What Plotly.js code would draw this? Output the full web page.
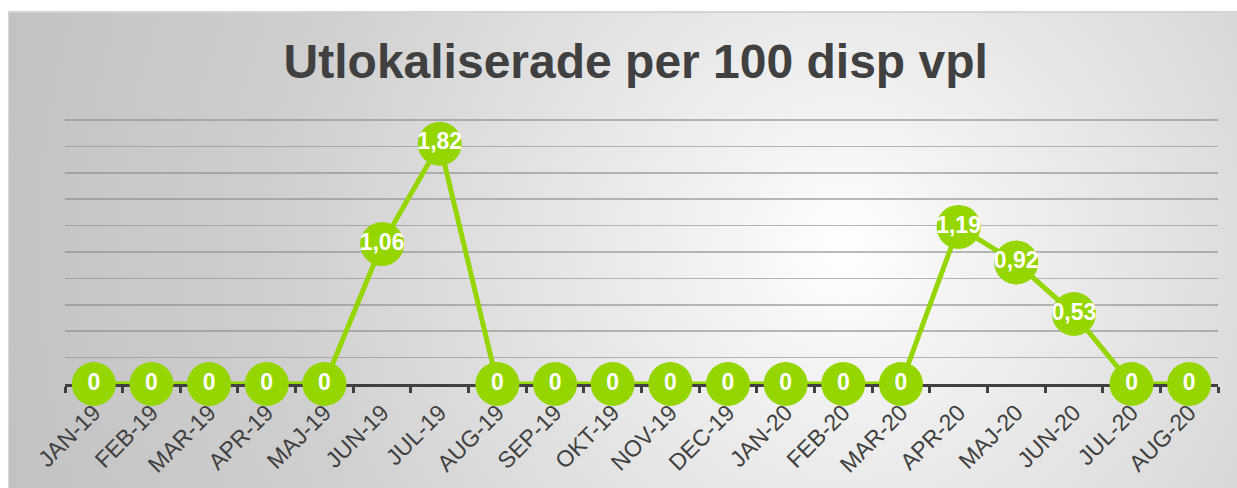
<!DOCTYPE html>
<html>
<head>
<meta charset="utf-8">
<script src="https://cdn.plot.ly/plotly-3.0.1.min.js"></script>
<style>
  html, body { margin: 0; padding: 0; background: #ffffff; }
  #bg {
    position: absolute; left: 8px; top: 11px; width: 1229px; height: 477px;
    box-sizing: border-box;
    border-top: 2px solid #d4d4d4; border-left: 1px solid #d8d8d8;
    background: radial-gradient(circle at 68% 50%, #ffffff 0%, #f3f3f3 14%, #e2e2e2 38%, #cfcfcf 65%, #c2c2c2 100%);
  }
  #chart { position: absolute; left: 0; top: 0; width: 1237px; height: 488px; }
</style>
</head>
<body>
<div id="bg"></div>
<div id="chart"></div>
<script>
const months = ["JAN-19","FEB-19","MAR-19","APR-19","MAJ-19","JUN-19","JUL-19","AUG-19","SEP-19","OKT-19","NOV-19","DEC-19","JAN-20","FEB-20","MAR-20","APR-20","MAJ-20","JUN-20","JUL-20","AUG-20"];
const values = [0,0,0,0,0,1.06,1.82,0,0,0,0,0,0,0,0,1.19,0.92,0.53,0,0];
const labels = values.map(v => String(v).replace('.', ','));

const green = '#95d600';
const dark = '#404040';

const trace = {
  type: 'scatter',
  mode: 'lines+markers+text',
  x: months,
  y: values,
  text: labels,
  textposition: 'middle center',
  textfont: { family: 'Liberation Sans, Arial, sans-serif', size: 23, color: '#ffffff', weight: 'bold' },
  line: { color: green, width: 5 },
  marker: { color: green, size: 44, line: { width: 0 } },
  cliponaxis: false,
  hoverinfo: 'skip',
  showlegend: false
};

const layout = {
  width: 1237, height: 488,
  margin: { l: 65, r: 19, t: 116, b: 104 },
  paper_bgcolor: 'rgba(0,0,0,0)',
  plot_bgcolor: 'rgba(0,0,0,0)',
  title: {
    text: '<b>Utlokaliserade per 100 disp vpl</b>',
    font: { family: 'Liberation Sans, Arial, sans-serif', size: 48, color: dark },
    xref: 'paper', x: 0.495, xanchor: 'center',
    yref: 'container', y: 0.875, yanchor: 'middle'
  },
  xaxis: {
    type: 'category',
    range: [-0.5, months.length - 0.5],
    showline: true, linecolor: dark, linewidth: 3,
    ticks: 'outside', tickson: 'boundaries', ticklen: 6, tickwidth: 3, tickcolor: dark,
    tickangle: -45,
    ticklabelstandoff: 3,
    tickfont: { family: 'Liberation Sans, Arial, sans-serif', size: 23, color: dark },
    showgrid: false, zeroline: false,
    layer: 'below traces',
    fixedrange: true
  },
  yaxis: {
    range: [0, 2.03], dtick: 0.2, tick0: 0,
    showgrid: true, gridcolor: 'rgba(140,140,140,0.6)', gridwidth: 1.5,
    showticklabels: false, ticks: '', zeroline: false, showline: false,
    layer: 'below traces',
    fixedrange: true
  },
  font: { family: 'Liberation Sans, Arial, sans-serif', color: dark }
};

Plotly.newPlot('chart', [trace], layout, { displayModeBar: false, staticPlot: true });
</script>
</body>
</html>
